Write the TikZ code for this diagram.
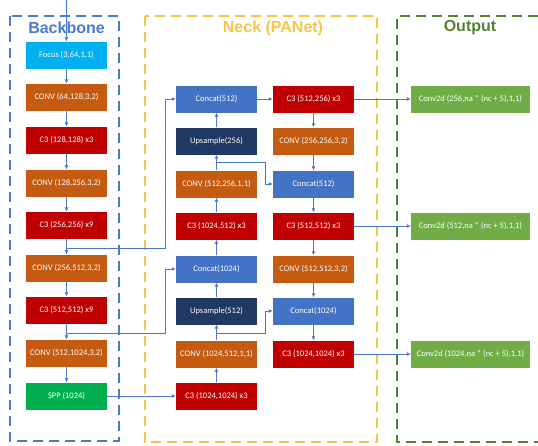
\documentclass[tikz,border=0pt]{standalone}
\usepackage{fontspec}
\newfontfamily\boxfont{Carlito}
\newfontfamily\titlefont{Liberation Sans}
\usetikzlibrary{arrows.meta}

\definecolor{cFocus}{HTML}{00B0F0}
\definecolor{cConv}{HTML}{C55A11}
\definecolor{cCthree}{HTML}{C00000}
\definecolor{cSpp}{HTML}{00B050}
\definecolor{cConcat}{HTML}{4472C4}
\definecolor{cUp}{HTML}{203864}
\definecolor{cHead}{HTML}{70AD47}
\definecolor{cArrow}{HTML}{4A78CC}
\definecolor{cBack}{HTML}{4A7BD0}
\definecolor{cNeck}{HTML}{F7C444}
\definecolor{cOut}{HTML}{548235}

\tikzset{
    blk/.style={minimum width=81pt, minimum height=27pt, inner sep=0pt, text=white,
        font=\boxfont\fontsize{8.5}{10}\selectfont},
    headblk/.style={blk, minimum width=119pt, fill=cHead},
    arr/.style={draw=cArrow, line width=0.7pt, -{Latex[length=4pt,width=4pt]}},
    frame/.style={line width=1.7pt, dash pattern=on 10pt off 6pt},
    ttl/.style={font=\titlefont\bfseries\fontsize{16}{19}\selectfont}
}

\begin{document}
\begin{tikzpicture}[x=1pt, y=-1pt]
    \useasboundingbox (0,0) rectangle (538,445);

    % 1. MARCS DE LES TRES PARTS
    \draw[frame, cBack] (10,16) rectangle (119,441);
    \draw[frame, cNeck] (145,16) rectangle (377,442);
    \draw[frame, cOut] (538,16) -- (397,16) -- (397,442) -- (538,442);
    \node[ttl, text=cBack] (tback) at (66.5,28) {Backbone};
    \node[ttl, text=cNeck] (tneck) at (273,28) {Neck (PANet)};
    \node[ttl, text=cOut] (tout) at (470,28) {Output};

    % 2. BACKBONE
    \foreach \n/\y/\c/\t in {
        b1/55/cFocus/{Focus (3,64,1,1)}, b2/97/cConv/{CONV (64,128,3,2)},
        b3/140/cCthree/{C3 (128,128) x3}, b4/183/cConv/{CONV (128,256,3,2)},
        b5/225/cCthree/{C3 (256,256) x9}, b6/268/cConv/{CONV (256,512,3,2)},
        b7/310/cCthree/{C3 (512,512) x9}, b8/353/cConv/{CONV (512,1024,3,2)},
        b9/396/cSpp/{SPP (1024)}
    } {
        \node[blk, fill=\c] (\n) at (66.5,\y) {\t};
    }

    % 3. NECK (PANet), DUES COLUMNES
    \foreach \n/\y/\c/\t in {
        n1/99/cConcat/{Concat(512)}, n2/141/cUp/{Upsample(256)},
        n3/184/cConv/{CONV (512,256,1,1)}, n4/226/cCthree/{C3 (1024,512) x3},
        n5/269/cConcat/{Concat(1024)}, n6/311/cUp/{Upsample(512)},
        n7/354/cConv/{CONV (1024,512,1,1)}, n8/396/cCthree/{C3 (1024,1024) x3}
    } {
        \node[blk, fill=\c] (\n) at (216.5,\y) {\t};
    }
    \foreach \n/\y/\c/\t in {
        m1/99/cCthree/{C3 (512,256) x3}, m2/141/cConv/{CONV (256,256,3,2)},
        m3/184/cConcat/{Concat(512)}, m4/226/cCthree/{C3 (512,512) x3},
        m5/269/cConv/{CONV (512,512,3,2)}, m6/311/cConcat/{Concat(1024)},
        m7/354/cCthree/{C3 (1024,1024) x3}
    } {
        \node[blk, fill=\c] (\n) at (313.5,\y) {\t};
    }

    % 4. SORTIDES
    \node[headblk] (o1) at (470.5,99) {Conv2d (256,na * (nc + 5),1,1)};
    \node[headblk] (o2) at (470.5,226) {Conv2d (512,na * (nc + 5),1,1)};
    \node[headblk] (o3) at (470.5,354) {Conv2d (1024,na * (nc + 5),1,1)};

    % 5. FLETXES
    \coordinate (in) at (66.5,0);
    \draw[arr] (in) -- (b1);
    \foreach \a/\b in {b1/b2, b2/b3, b3/b4, b4/b5, b5/b6, b6/b7, b7/b8, b8/b9,
        n8/n7, n7/n6, n6/n5, n5/n4, n4/n3, n3/n2, n2/n1,
        m1/m2, m2/m3, m3/m4, m4/m5, m5/m6, m6/m7,
        b9/n8, n1/m1, m1/o1, m4/o2, m7/o3} {
        \draw[arr] (\a) -- (\b);
    }

    % 6. CONNEXIONS LATERALS
    \coordinate (j1) at (66.5,248);
    \coordinate (j2) at (66.5,333);
    \coordinate (j3) at (216.5,162);
    \coordinate (j4) at (216.5,333);
    \draw[arr] (j1) -| ([xshift=-10pt]n1.west) -- (n1.west);
    \draw[arr] (j2) -| ([xshift=-10pt]n5.west) -- (n5.west);
    \draw[arr] (j3) -| ([xshift=-7pt]m3.west) -- (m3.west);
    \draw[arr] (j4) -| ([xshift=-7pt]m6.west) -- (m6.west);

\end{tikzpicture}
\end{document}
